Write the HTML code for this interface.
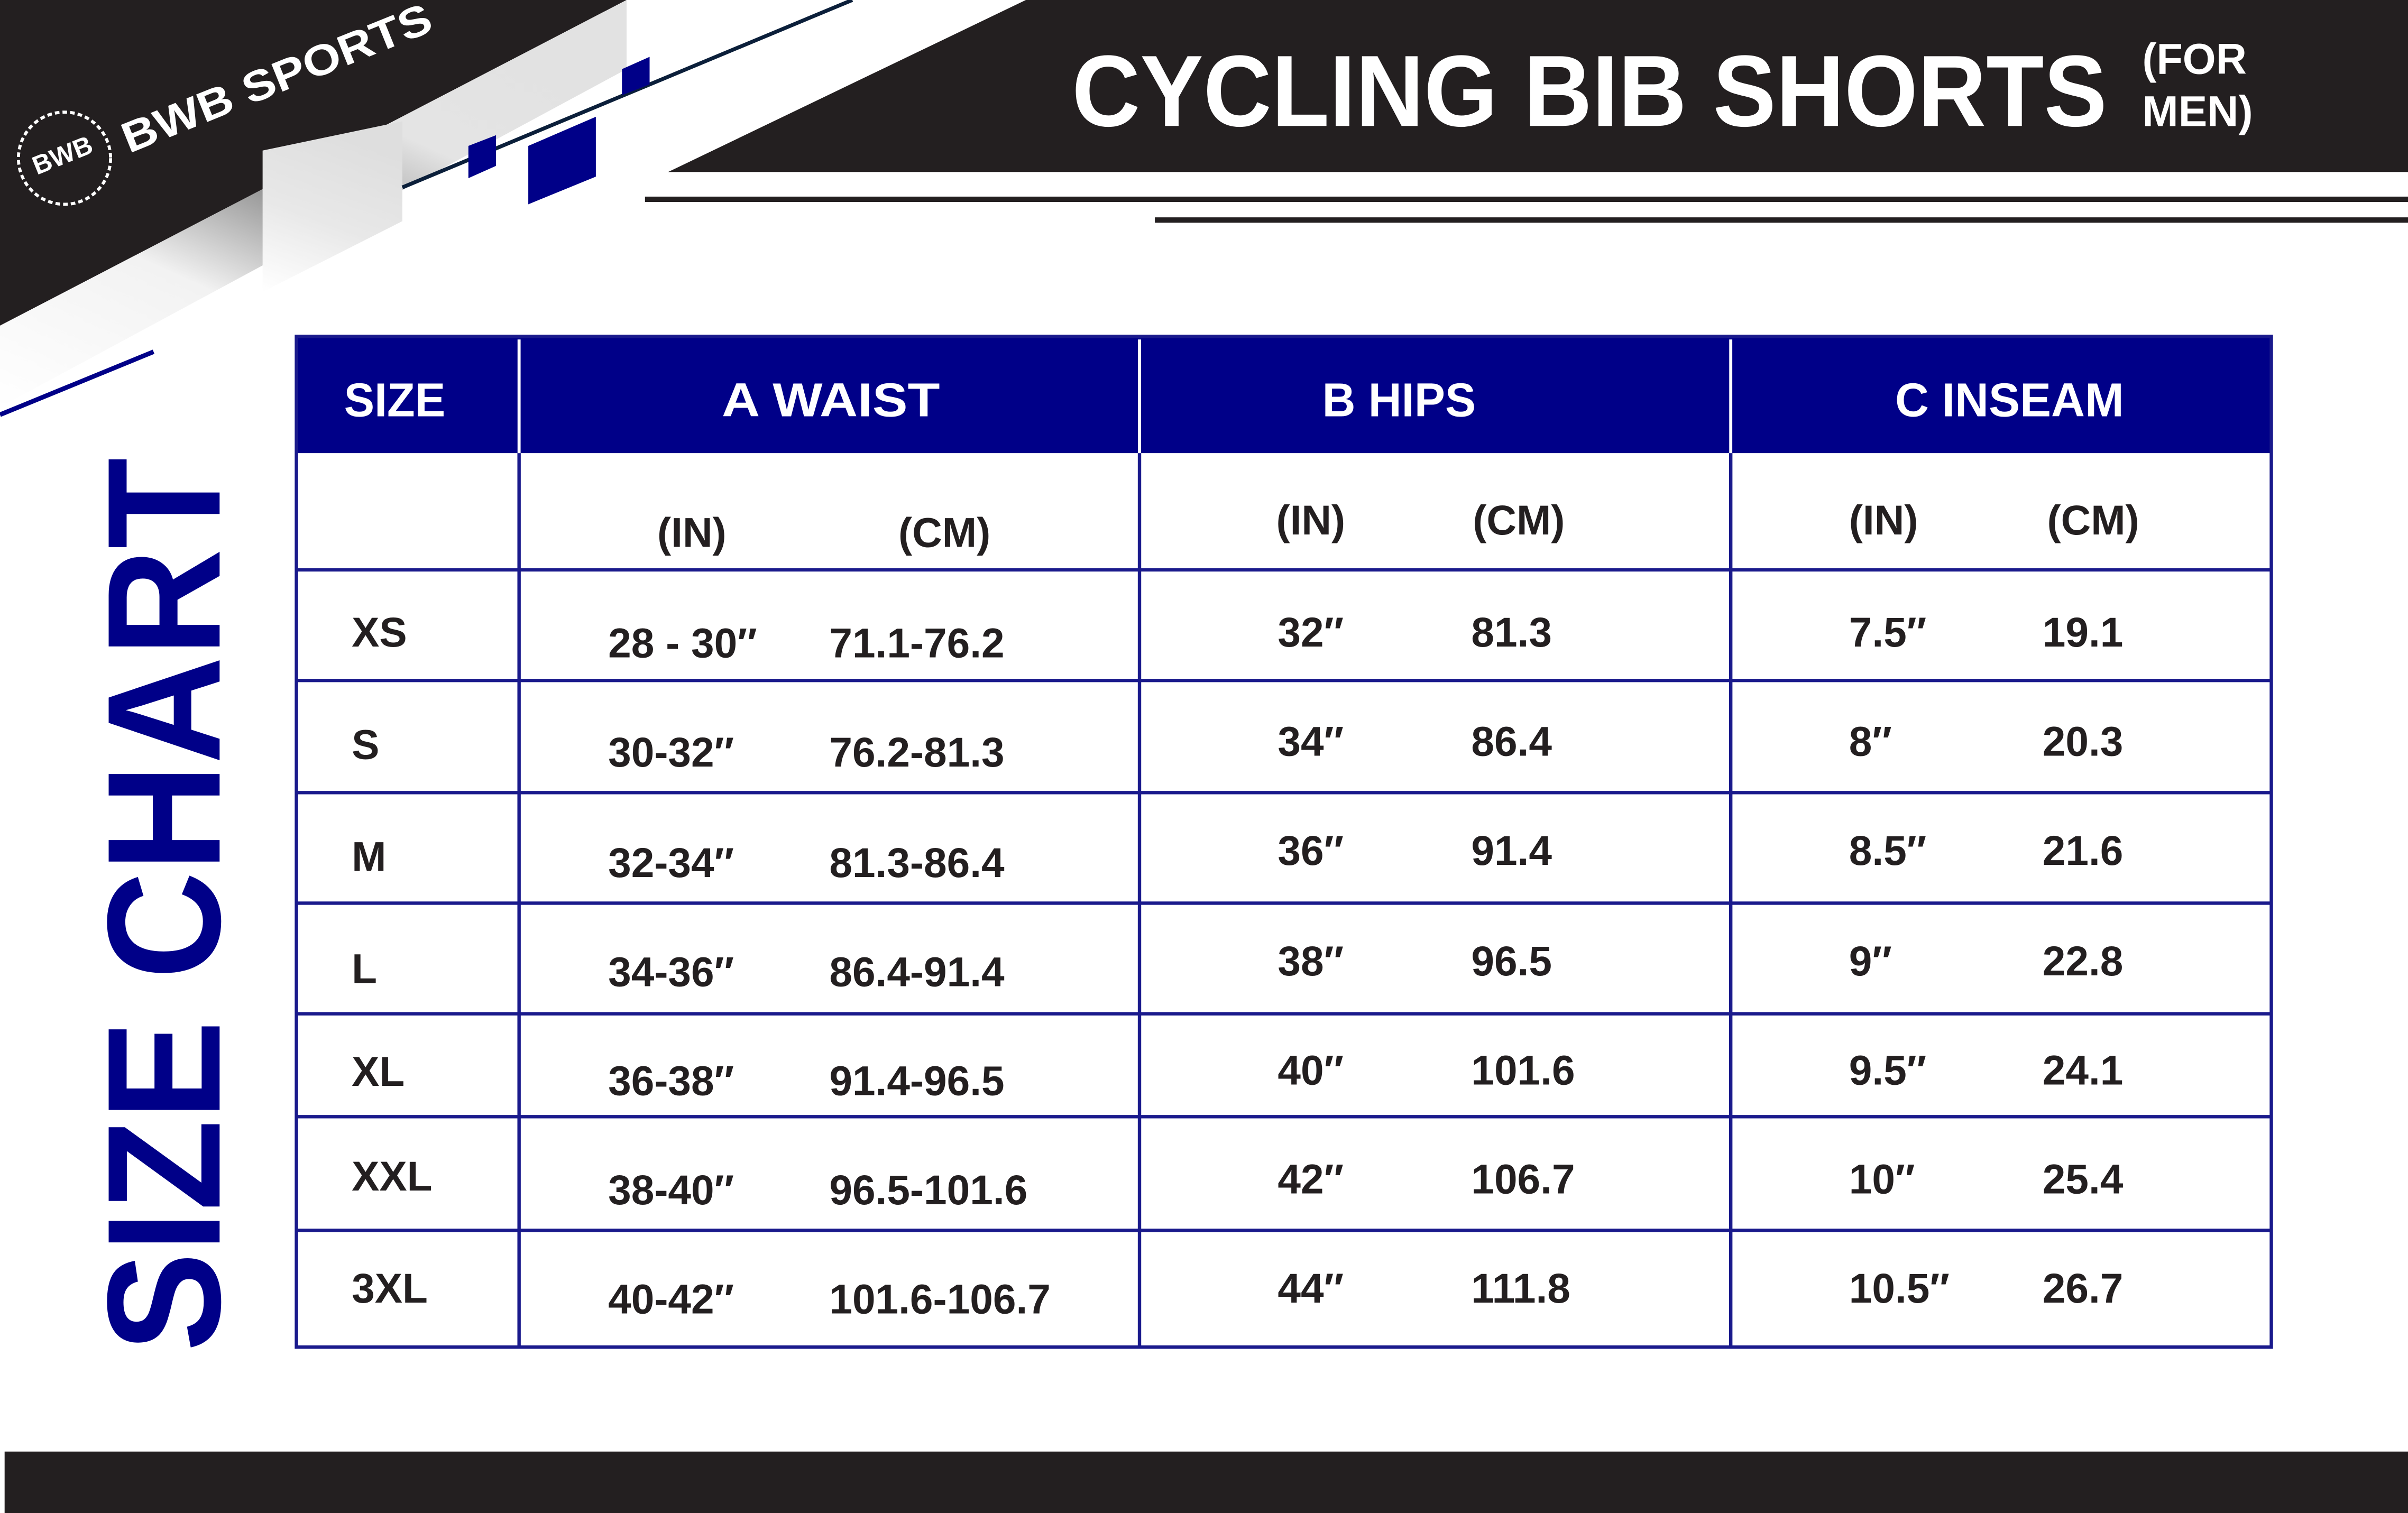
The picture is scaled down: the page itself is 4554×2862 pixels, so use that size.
<!DOCTYPE html>
<html><head><meta charset="utf-8"><style>
html,body{margin:0;padding:0;background:#fff;}
svg{display:block;}
text{font-family:"Liberation Sans",sans-serif;font-weight:bold;}
</style></head><body>
<svg width="4554" height="2862" viewBox="0 0 1568 985" preserveAspectRatio="none" xmlns="http://www.w3.org/2000/svg">
<defs>
<linearGradient id="g1" x1="0" y1="1" x2="0.7" y2="0">
<stop offset="0" stop-color="#ffffff"/><stop offset="0.35" stop-color="#f2f2f2"/><stop offset="0.55" stop-color="#9a9a9a"/><stop offset="0.75" stop-color="#e4e4e4"/><stop offset="1" stop-color="#e2e2e2"/>
</linearGradient>
<linearGradient id="g2" x1="0" y1="1" x2="0.3" y2="0">
<stop offset="0" stop-color="#ffffff"/><stop offset="0.5" stop-color="#e8e8e8"/><stop offset="1" stop-color="#dedede"/>
</linearGradient>
</defs>
<polygon points="0,0 408,0 0,212" fill="#231f20"/>
<polygon points="0,212 408,0 408,45 0,265" fill="url(#g1)"/>
<polygon points="171,98 262,79 262,144 171,190" fill="url(#g2)"/>
<line x1="555" y1="0" x2="262" y2="122" stroke="#0b1f3a" stroke-width="2.5"/>
<polygon points="305,95 323,88 323,108 305,116" fill="#000088"/>
<polygon points="344,95 388,76 388,115 344,133" fill="#000088"/>
<polygon points="405,45 423,37 423,55 405,62" fill="#000088"/>
<line x1="0" y1="270" x2="100" y2="229" stroke="#000088" stroke-width="3"/>
<circle cx="42" cy="103" r="30" fill="none" stroke="#fff" stroke-width="2" stroke-dasharray="3 2"/>
<text transform="translate(24,114) rotate(-22)" font-size="17" fill="#fff">BWB</text>
<text transform="translate(84,100) rotate(-22)" font-size="28" fill="#fff" textLength="215" lengthAdjust="spacingAndGlyphs">BWB SPORTS</text>
<polygon points="435,112 668,0 1568,0 1568,112" fill="#231f20"/>
<rect x="420" y="128" width="1148" height="3.5" fill="#231f20"/>
<rect x="752" y="141.5" width="816" height="3.5" fill="#231f20"/>
<text x="698" y="82" font-size="66" fill="#fff" textLength="674" lengthAdjust="spacingAndGlyphs">CYCLING BIB SHORTS</text>
<text x="1395" y="48" font-size="28" fill="#fff" textLength="68" lengthAdjust="spacingAndGlyphs">(FOR</text>
<text x="1395" y="82" font-size="28" fill="#fff" textLength="72" lengthAdjust="spacingAndGlyphs">MEN)</text>
<text transform="translate(143,880) rotate(-90)" font-size="105" fill="#000088" textLength="582" lengthAdjust="spacingAndGlyphs">SIZE CHART</text>
<rect x="193" y="219" width="1286" height="76" fill="#000088"/>
<g stroke="#1a1a8c" stroke-width="2.2" fill="none">
<rect x="193" y="219" width="1286" height="658"/>
<line x1="193" y1="371" x2="1479" y2="371"/>
<line x1="193" y1="443" x2="1479" y2="443"/>
<line x1="193" y1="516" x2="1479" y2="516"/>
<line x1="193" y1="588" x2="1479" y2="588"/>
<line x1="193" y1="660" x2="1479" y2="660"/>
<line x1="193" y1="727" x2="1479" y2="727"/>
<line x1="193" y1="801" x2="1479" y2="801"/>
<line x1="338" y1="295" x2="338" y2="877"/>
<line x1="742" y1="295" x2="742" y2="877"/>
<line x1="1127" y1="295" x2="1127" y2="877"/>
</g>
<g stroke="#ffffff" stroke-width="2">
<line x1="338" y1="221" x2="338" y2="295"/>
<line x1="742" y1="221" x2="742" y2="295"/>
<line x1="1127" y1="221" x2="1127" y2="295"/>
</g>
<g fill="#fff" font-size="31">
<text x="224" y="271" textLength="66" lengthAdjust="spacingAndGlyphs">SIZE</text>
<text x="470" y="271" textLength="142" lengthAdjust="spacingAndGlyphs">A  WAIST</text>
<text x="861" y="271" textLength="100" lengthAdjust="spacingAndGlyphs">B HIPS</text>
<text x="1234" y="271" textLength="149" lengthAdjust="spacingAndGlyphs">C INSEAM</text>
</g>
<g fill="#231f20" font-size="27">
<text x="428" y="356">(IN)</text><text x="585" y="356">(CM)</text>
<text x="831" y="348">(IN)</text><text x="959" y="348">(CM)</text>
<text x="1204" y="348">(IN)</text><text x="1333" y="348">(CM)</text>
<text x="229" y="421">XS</text><text x="229" y="494">S</text><text x="229" y="567">M</text><text x="229" y="640">L</text><text x="229" y="707">XL</text><text x="229" y="775">XXL</text><text x="229" y="848">3XL</text>
<text x="396" y="428">28 - 30″</text><text x="540" y="428">71.1-76.2</text>
<text x="396" y="499">30-32″</text><text x="540" y="499">76.2-81.3</text>
<text x="396" y="571">32-34″</text><text x="540" y="571">81.3-86.4</text>
<text x="396" y="642">34-36″</text><text x="540" y="642">86.4-91.4</text>
<text x="396" y="713">36-38″</text><text x="540" y="713">91.4-96.5</text>
<text x="396" y="784">38-40″</text><text x="540" y="784">96.5-101.6</text>
<text x="396" y="855">40-42″</text><text x="540" y="855">101.6-106.7</text>
<text x="832" y="421">32″</text><text x="958" y="421">81.3</text>
<text x="832" y="492">34″</text><text x="958" y="492">86.4</text>
<text x="832" y="563">36″</text><text x="958" y="563">91.4</text>
<text x="832" y="635">38″</text><text x="958" y="635">96.5</text>
<text x="832" y="706">40″</text><text x="958" y="706">101.6</text>
<text x="832" y="777">42″</text><text x="958" y="777">106.7</text>
<text x="832" y="848">44″</text><text x="958" y="848">111.8</text>
<text x="1204" y="421">7.5″</text><text x="1330" y="421">19.1</text>
<text x="1204" y="492">8″</text><text x="1330" y="492">20.3</text>
<text x="1204" y="563">8.5″</text><text x="1330" y="563">21.6</text>
<text x="1204" y="635">9″</text><text x="1330" y="635">22.8</text>
<text x="1204" y="706">9.5″</text><text x="1330" y="706">24.1</text>
<text x="1204" y="777">10″</text><text x="1330" y="777">25.4</text>
<text x="1204" y="848">10.5″</text><text x="1330" y="848">26.7</text>
</g>
<rect x="3" y="945" width="1565" height="40" fill="#231f20"/>
</svg>
</body></html>
